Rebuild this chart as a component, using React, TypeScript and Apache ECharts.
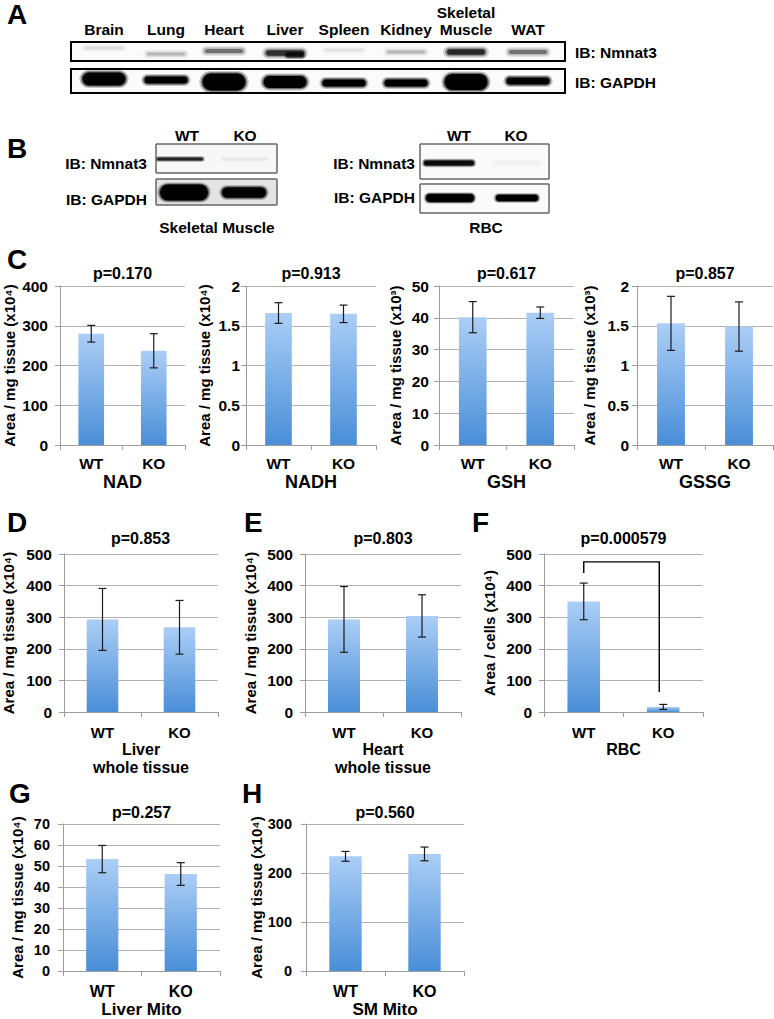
import React, { useEffect, useRef } from "react";
import * as echarts from "echarts";

const FONT = "'Liberation Sans', Arial, Helvetica, sans-serif";

// ---------- data ----------
const groups = ["WT", "KO"];

const tissueLanes = ["Brain", "Lung", "Heart", "Liver", "Spleen", "Kidney", "Skeletal\nMuscle", "WAT"];
const nmnat3Signal = [0.1, 0.22, 0.5, 0.85, 0.08, 0.22, 0.9, 0.5];
const gapdhSignal = [0.8, 0.5, 1.0, 0.75, 0.5, 0.5, 0.95, 0.5];
const smNmnat3Signal = [0.85, 0.04];
const smGapdhSignal = [1.0, 0.7];
const rbcNmnat3Signal = [0.95, 0.02];
const rbcGapdhSignal = [0.9, 0.7];

const nadMean = [280, 237];
const nadErr = [21, 43];
const nadhMean = [1.66, 1.65];
const nadhErr = [0.13, 0.11];
const gshMean = [40.2, 41.6];
const gshErr = [4.9, 1.8];
const gssgMean = [1.53, 1.49];
const gssgErr = [0.34, 0.31];
const liverMean = [293, 268];
const liverErr = [98, 85];
const heartMean = [293, 304];
const heartErr = [104, 67];
const rbcMean = [350, 16];
const rbcErr = [58, 8];
const liverMitoMean = [53.3, 46.2];
const liverMitoErr = [6.5, 5.4];
const smMitoMean = [234, 239];
const smMitoErr = [10, 14];

const pLabels = ["p=0.170", "p=0.913", "p=0.617", "p=0.857", "p=0.853", "p=0.803", "p=0.000579", "p=0.257", "p=0.560"];
const rbcBracket = [[0, 1, 440, 475, 63]];

// ---------- layout ----------
const C = { top: 286, height: 159, pY: 273, tick: 15.5, cat: 15.5, xFont: 18, xGap: 28, catMargin: 10, nameFont: 15 };
const D = { top: 554, height: 158, pY: 538, tick: 15.5, cat: 15, xFont: 16, xGap: 26, catMargin: 13, nameFont: 15 };
const G = { top: 824, height: 150, pY: 812, tick: 14.5, cat: 16, xFont: 17, xGap: 25, catMargin: 12, nameFont: 15 };

const panels = [
  { ...C, mean: nadMean, err: nadErr, max: 400, step: 100, yName: "Area / mg tissue (x10⁴)", xName: "NAD", left: 60, width: 125, yGap: 43, yMargin: 12 },
  { ...C, mean: nadhMean, err: nadhErr, max: 2, step: 0.5, yName: "Area / mg tissue (x10⁴)", xName: "NADH", left: 246, width: 130, yGap: 34, yMargin: 6 },
  { ...C, mean: gshMean, err: gshErr, max: 50, step: 10, yName: "Area / mg tissue (x10³)", xName: "GSH", left: 439, width: 135, yGap: 36, yMargin: 10 },
  { ...C, mean: gssgMean, err: gssgErr, max: 2, step: 0.5, yName: "Area / mg tissue (x10³)", xName: "GSSG", left: 637, width: 136, yGap: 40, yMargin: 8 },
  { ...D, mean: liverMean, err: liverErr, max: 500, step: 100, yName: "Area / mg tissue (x10⁴)", xName: "Liver\nwhole tissue", left: 63, width: 155, yGap: 48, yMargin: 12 },
  { ...D, mean: heartMean, err: heartErr, max: 500, step: 100, yName: "Area / mg tissue (x10⁴)", xName: "Heart\nwhole tissue", left: 305, width: 156, yGap: 47, yMargin: 12 },
  { ...D, mean: rbcMean, err: rbcErr, max: 500, step: 100, yName: "Area / cells (x10⁴)", xName: "RBC", left: 544, width: 159, yGap: 47, yMargin: 12 },
  { ...G, mean: liverMitoMean, err: liverMitoErr, max: 70, step: 10, yName: "Area / mg tissue (x10⁴)", xName: "Liver Mito", left: 63, width: 157, yGap: 38, yMargin: 13 },
  { ...G, mean: smMitoMean, err: smMitoErr, max: 300, step: 100, yName: "Area / mg tissue (x10⁴)", xName: "SM Mito", left: 306, width: 158, yGap: 36, yMargin: 14 },
];

const laneX = [104, 166, 224, 285, 344, 406, 466, 528];
const nmnat3LaneY = [48, 54, 51, 53, 50, 52, 52, 52];
const gapdhLaneY = [79, 80, 82, 82, 83, 83, 82, 81];

// ---------- helpers ----------
const txt = (text: string, x: number, y: number, size: number, align = "center", weight = "bold", vAlign = "middle") => ({
  type: "text",
  x,
  y,
  silent: true,
  z: 10,
  style: { text, fontSize: size, fontWeight: weight, fontFamily: FONT, fill: "#000", textAlign: align, textVerticalAlign: vAlign },
});

const grey = (a: number) => `rgba(0,0,0,${Math.max(0, Math.min(1, a)).toFixed(3)})`;

const rr = (cx: number, cy: number, w: number, h: number, fill: string) => ({
  type: "rect",
  silent: true,
  z: 3,
  shape: { x: cx - w / 2, y: cy - h / 2, width: w, height: h, r: Math.max(0.5, h / 2) },
  style: { fill },
});

// a soft blot band made of nested translucent rounded rects
const band = (cx: number, cy: number, w: number, h: number, alpha: number, spread = 1) => [
  rr(cx, cy, w + 8 * spread, h + 6 * spread, grey(alpha * 0.18)),
  rr(cx, cy, w + 4 * spread, h + 3 * spread, grey(alpha * 0.35)),
  rr(cx, cy, w, h, grey(alpha * 0.8)),
];

const box = (x: number, y: number, w: number, h: number, fill: string, stroke: string, lw: number, z = 2) => ({
  type: "rect",
  silent: true,
  z,
  shape: { x, y, width: w, height: h },
  style: { fill, stroke, lineWidth: lw },
});

function buildGraphics() {
  const els: any[] = [];
  // panel letters
  els.push(txt("A", 7, 14, 28, "left"));
  els.push(txt("B", 7, 148, 28, "left"));
  els.push(txt("C", 7, 259, 28, "left"));
  els.push(txt("D", 7, 522, 28, "left"));
  els.push(txt("E", 244, 522, 28, "left"));
  els.push(txt("F", 472, 522, 28, "left"));
  els.push(txt("G", 9, 793, 28, "left"));
  els.push(txt("H", 242, 793, 28, "left"));

  // ----- panel A -----
  tissueLanes.forEach((name, i) => {
    const lines = name.split("\n");
    lines.forEach((ln, k) => {
      els.push(txt(ln, laneX[i], 29 - (lines.length - 1 - k) * 17, 15.5));
    });
  });
  els.push(box(71, 42, 494, 19, "#fbfbfb", "#000", 2));
  els.push(box(71, 69, 494, 24, "#fbfbfb", "#000", 2));
  nmnat3Signal.forEach((s, i) => {
    els.push(...band(laneX[i], nmnat3LaneY[i], 38, 2 + 4 * s, s));
  });
  // darker core of the liver band
  els.push(...band(laneX[3] + 10, nmnat3LaneY[3] + 2, 18, 5, 0.8, 0.6));
  gapdhSignal.forEach((s, i) => {
    els.push(...band(laneX[i], gapdhLaneY[i], 43, 20 * s - 3, 1.25, 0.8));
  });
  els.push(box(71, 42, 494, 19, "none", "#000", 2, 6));
  els.push(box(71, 69, 494, 24, "none", "#000", 2, 6));
  els.push(txt("IB: Nmnat3", 575, 52, 15.5, "left"));
  els.push(txt("IB: GAPDH", 575, 82, 15.5, "left"));

  // ----- panel B, skeletal muscle -----
  els.push(txt("WT", 187, 135, 15.5));
  els.push(txt("KO", 245, 135, 15.5));
  els.push(box(156, 144, 121, 29, "#f7f7f7", "#666", 1));
  els.push(box(156, 179, 121, 26, "#e4e4e4", "#666", 1));
  smNmnat3Signal.forEach((s, i) => {
    els.push(...band([180, 245][i], 159, 46, 3, s * 1.1, 0.5));
  });
  smGapdhSignal.forEach((s, i) => {
    els.push(...band([184, 244][i], 192.5, [48, 44][i], 18 * s - 2, 1.25, 0.7));
  });
  els.push(box(156, 144, 121, 29, "none", "#666", 1, 6));
  els.push(box(156, 179, 121, 26, "none", "#666", 1, 6));
  els.push(txt("IB: Nmnat3", 147, 163, 15.5, "right"));
  els.push(txt("IB: GAPDH", 147, 199, 15.5, "right"));
  els.push(txt("Skeletal Muscle", 217, 227, 15.5));

  // ----- panel B, RBC -----
  els.push(txt("WT", 459, 135, 15.5));
  els.push(txt("KO", 516, 135, 15.5));
  els.push(box(420, 144, 129, 35, "#fafafa", "#666", 1));
  els.push(box(420, 184, 129, 29, "#fafafa", "#666", 1));
  rbcNmnat3Signal.forEach((s, i) => {
    els.push(...band([449, 517][i], 163, 50, 5, s * 1.2, 0.6));
  });
  rbcGapdhSignal.forEach((s, i) => {
    els.push(...band([450, 517][i], 198, [48, 42][i], 9 * s, 1.25, 0.6));
  });
  els.push(box(420, 144, 129, 35, "none", "#666", 1, 6));
  els.push(box(420, 184, 129, 29, "none", "#666", 1, 6));
  els.push(txt("IB: Nmnat3", 415, 163, 15.5, "right"));
  els.push(txt("IB: GAPDH", 415, 197, 15.5, "right"));
  els.push(txt("RBC", 486, 227, 15.5));

  // p-values
  panels.forEach((p, i) => {
    els.push(txt(pLabels[i], p.left + p.width / 2, p.pY, 16));
  });
  return els;
}

const errRender = (params: any, api: any) => {
  const x = api.value(0);
  const lo = api.coord([x, api.value(1)]);
  const hi = api.coord([x, api.value(2)]);
  const hw = 4;
  const style = { stroke: "#1a1a1a", lineWidth: 1.2 };
  return {
    type: "group",
    children: [
      { type: "line", shape: { x1: lo[0], y1: lo[1], x2: hi[0], y2: hi[1] }, style },
      { type: "line", shape: { x1: hi[0] - hw, y1: hi[1], x2: hi[0] + hw, y2: hi[1] }, style },
      { type: "line", shape: { x1: lo[0] - hw, y1: lo[1], x2: lo[0] + hw, y2: lo[1] }, style },
    ],
  };
};

const bracketRender = (params: any, api: any) => {
  const a = api.coord([api.value(0), api.value(2)]);
  const b = api.coord([api.value(0), api.value(3)]);
  const c = api.coord([api.value(1), api.value(3)]);
  const d = api.coord([api.value(1), api.value(4)]);
  return {
    type: "polyline",
    shape: { points: [a, b, [c[0] - 4, c[1]], [d[0] - 4, d[1]]] },
    style: { stroke: "#000", lineWidth: 1.4, fill: "none" },
  };
};

function buildOption() {
  const gradient = new echarts.graphic.LinearGradient(0, 0, 0, 1, [
    { offset: 0, color: "#abcef6" },
    { offset: 1, color: "#4a8ed7" },
  ]);
  const axisGrey = "#9c9c9c";
  const grid: any[] = [];
  const xAxis: any[] = [];
  const yAxis: any[] = [];
  const series: any[] = [];
  panels.forEach((p, i) => {
    grid.push({ left: p.left, top: p.top, width: p.width, height: p.height });
    xAxis.push({
      type: "category",
      gridIndex: i,
      data: groups,
      axisLine: { lineStyle: { color: axisGrey } },
      axisTick: { show: true, length: 5, lineStyle: { color: axisGrey } },
      axisLabel: { color: "#000", fontSize: p.cat, fontWeight: "bold", fontFamily: FONT, margin: p.catMargin },
      name: p.xName,
      nameLocation: "middle",
      nameGap: p.xGap,
      nameTextStyle: { color: "#000", fontSize: p.xFont, fontWeight: "bold", fontFamily: FONT, lineHeight: 18 },
    });
    yAxis.push({
      type: "value",
      gridIndex: i,
      min: 0,
      max: p.max,
      interval: p.step,
      axisLine: { show: true, lineStyle: { color: axisGrey } },
      axisTick: { show: true, length: 5, lineStyle: { color: axisGrey } },
      splitLine: { lineStyle: { color: "#b2b2b2" } },
      axisLabel: { color: "#000", fontSize: p.tick, fontWeight: "bold", fontFamily: FONT, margin: p.yMargin },
      name: p.yName,
      nameLocation: "middle",
      nameRotate: 90,
      nameGap: p.yGap,
      nameTextStyle: { color: "#000", fontSize: p.nameFont, fontWeight: "bold", fontFamily: FONT },
    });
    series.push({
      type: "bar",
      xAxisIndex: i,
      yAxisIndex: i,
      data: p.mean,
      barWidth: "41%",
      silent: true,
      itemStyle: { color: gradient },
    });
    series.push({
      type: "custom",
      xAxisIndex: i,
      yAxisIndex: i,
      z: 5,
      silent: true,
      encode: { x: 0, y: [1, 2] },
      data: p.mean.map((m, j) => [j, m - p.err[j], m + p.err[j]]),
      renderItem: errRender,
    });
  });
  series.push({
    type: "custom",
    xAxisIndex: 6,
    yAxisIndex: 6,
    z: 6,
    silent: true,
    encode: { x: [0, 1], y: [2, 3, 4] },
    data: rbcBracket,
    renderItem: bracketRender,
  });
  return {
    animation: false,
    backgroundColor: "#fff",
    textStyle: { fontFamily: FONT },
    grid,
    xAxis,
    yAxis,
    series,
    graphic: { elements: buildGraphics() },
  };
}

export default function App() {
  const ref = useRef<HTMLDivElement>(null);
  useEffect(() => {
    const chart = echarts.init(ref.current!, null, { renderer: "svg" });
    chart.setOption(buildOption() as any);
    return () => chart.dispose();
  }, []);
  return (
    <div
      ref={ref}
      style={{ position: "absolute", left: 0, top: 0, width: 774, height: 1019, background: "#fff" }}
    />
  );
}
